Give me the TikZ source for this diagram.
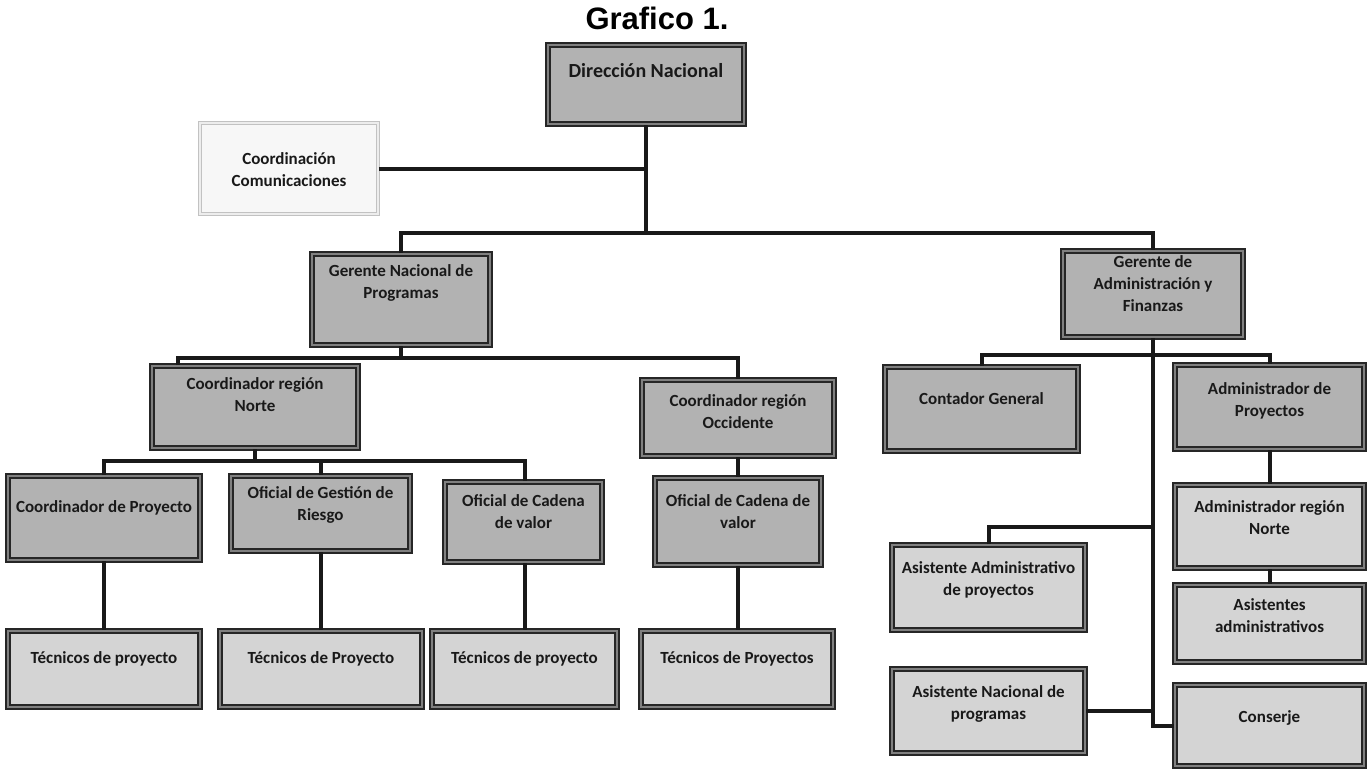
\documentclass[tikz,border=0pt]{standalone}
\usepackage{fontspec}
\setmainfont{Carlito}
\newfontfamily\titlefont{Liberation Sans}
\usetikzlibrary{fit}

% \orgbox{name}{x1}{y1}{x2}{y2}{style}{text offset}{text}
\newcommand\orgbox[8]{%
  \node[#6, fit={(#2,#3) (#4,#5)},
        label={[lbl, anchor=north, yshift=-#7pt]north:{#8}}] (#1) {};}

\tikzset{
  boxbase/.style={inner sep=0pt, draw=black!85, line width=2pt,
                  double=black!50, double distance=1.3pt},
  hibox/.style={boxbase, fill=black!30},
  lobox/.style={boxbase, fill=black!17},
  softbox/.style={inner sep=0pt, draw=black!24, line width=1.5pt,
                  double=black!7, double distance=1.4pt, fill=black!3},
  lbl/.style={inner sep=0pt, align=center, text=black!90,
              font=\bfseries\fontsize{17}{22}\selectfont,
              execute at begin node=\strut},
  biglbl/.style={lbl, font=\bfseries\fontsize{20}{24}\selectfont},
  link/.style={line width=4pt, black!90}
}

\begin{document}
\begin{tikzpicture}[x=1pt, y=-1pt]
\useasboundingbox (0,0) rectangle (1367,771);

\node[font=\titlefont\bfseries\fontsize{31}{36}\selectfont] (title) at (657,18) {Grafico 1.};

% top level
\node[hibox, fit={(548,45) (744,124)},
      label={[biglbl, anchor=north, yshift=-16pt]north:{Dirección Nacional}}] (dn) {};
\orgbox{cc}{200}{123}{378}{214}{softbox}{30}{Coordinación\\Comunicaciones}

% second level
\orgbox{gnp}{312}{254}{490}{345}{hibox}{11}{Gerente Nacional de\\Programas}
\orgbox{gaf}{1063}{251}{1243}{337}{hibox}{5}{Gerente de\\Administración y\\Finanzas}

% programmes branch
\orgbox{crn}{152}{366}{358}{448}{hibox}{12}{Coordinador región\\Norte}
\orgbox{cro}{642}{380}{834}{456}{hibox}{15}{Coordinador región\\Occidente}
\orgbox{cdp}{8}{476}{200}{560}{hibox}{22}{Coordinador de Proyecto}
\orgbox{ogr}{231}{476}{410}{551}{hibox}{11}{Oficial de Gestión de\\Riesgo}
\orgbox{ocv}{445}{482}{602}{562}{hibox}{13}{Oficial de Cadena\\de valor}
\orgbox{ocvb}{655}{478}{821}{565}{hibox}{17}{Oficial de Cadena de\\valor}

\orgbox{tpa}{8}{631}{200}{707}{lobox}{18}{Técnicos de proyecto}
\orgbox{tpb}{220}{631}{422}{707}{lobox}{18}{Técnicos de Proyecto}
\orgbox{tpc}{432}{631}{617}{707}{lobox}{18}{Técnicos de proyecto}
\orgbox{tpd}{641}{631}{833}{707}{lobox}{18}{Técnicos de Proyectos}

% administration branch
\orgbox{cont}{885}{367}{1078}{451}{hibox}{23}{Contador General}
\orgbox{admp}{1175}{365}{1364}{449}{hibox}{18}{Administrador de\\Proyectos}
\orgbox{admrn}{1175}{485}{1364}{568}{lobox}{16}{Administrador región\\Norte}
\orgbox{asist}{1175}{585}{1364}{662}{lobox}{14}{Asistentes\\administrativos}
\orgbox{asadm}{892}{545}{1085}{630}{lobox}{17}{Asistente Administrativo\\de proyectos}
\orgbox{asnac}{892}{669}{1085}{753}{lobox}{17}{Asistente Nacional de\\programas}
\orgbox{cons}{1175}{685}{1364}{766}{lobox}{23}{Conserje}

% junction points
\coordinate (jtop) at (646,233);
\coordinate (jprog) at (401,358);
\coordinate (jnorte) at (255,461);
\coordinate (jadm) at (1153,355);
\coordinate (jasis) at (1153,527);

% connectors
\draw[link] (dn.south) -- (jtop);
\draw[link] (cc.east) -- (cc.east -| dn.south);
\draw[link] (gnp.north) |- (jtop) -| (gaf.north);

\draw[link] (gnp.south) -- (jprog);
\draw[link] ([xshift=-77pt]crn.north) |- (jprog) -| (cro.north);
\draw[link] (crn.south) -- (jnorte);
\draw[link] (cdp.north) |- (jnorte) -| ([xshift=1pt]ocv.north);
\draw[link] (ogr.north) -- (ogr.north |- jnorte);
\draw[link] (cro.south) -- (cro.south |- ocvb.north);

\draw[link] (cdp.south) -- (cdp.south |- tpa.north);
\draw[link] (ogr.south) -- (ogr.south |- tpb.north);
\draw[link] ([xshift=1pt]ocv.south) -- ([xshift=1pt]ocv.south |- tpc.north);
\draw[link] (ocvb.south) -- (ocvb.south |- tpd.north);

\draw[link] (gaf.south) |- (cons.west);
\draw[link] (cont.north) |- (jadm) -| (admp.north);
\draw[link] (asadm.north) |- (jasis);
\draw[link] (asnac.east) -- (asnac.east -| gaf.south);
\draw[link] (admp.south) -- (admp.south |- admrn.north);
\draw[link] (admrn.south) -- (admrn.south |- asist.north);
\end{tikzpicture}
\end{document}
